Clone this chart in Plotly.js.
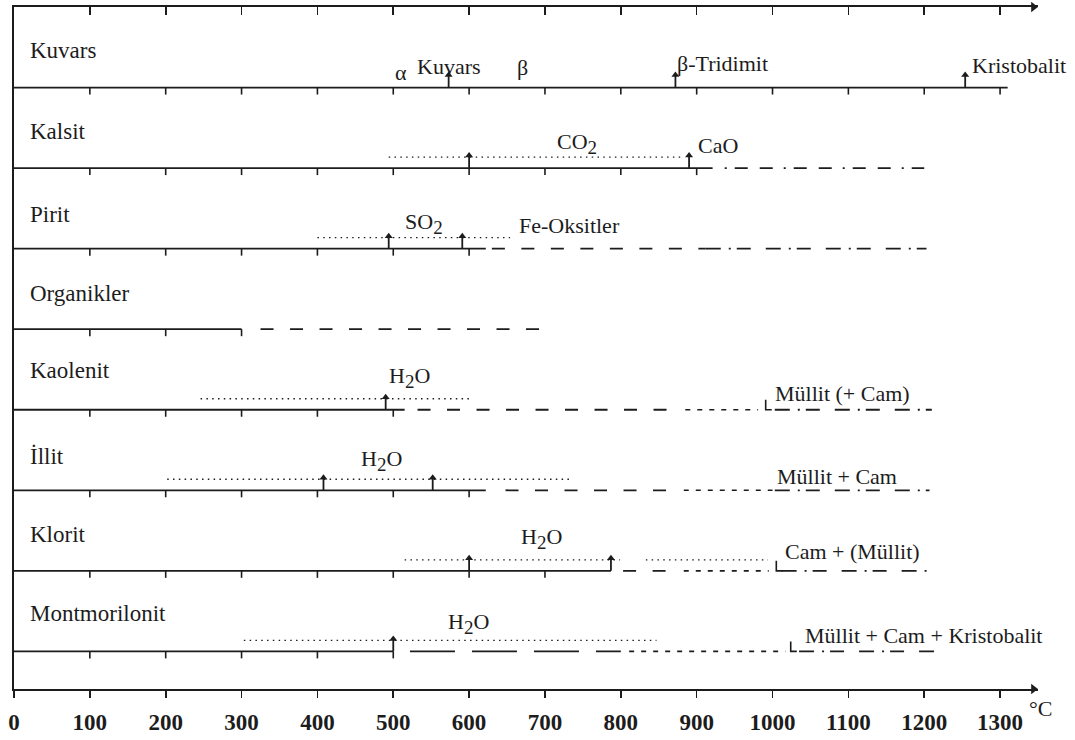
<!DOCTYPE html>
<html>
<head>
<meta charset="utf-8">
<script src="https://cdn.plot.ly/plotly-3.0.1.min.js"></script>
<style>
  html, body { margin: 0; padding: 0; background: #ffffff; }
  #chart { width: 1075px; height: 740px; }
</style>
</head>
<body>
<div id="chart"></div>
<script>
// ---------------- data (temperatures in °C) ----------------
const minerals = ['Kuvars', 'Kalsit', 'Pirit', 'Organikler', 'Kaolenit', 'İllit', 'Klorit', 'Montmorilonit'];
const solidEnd = [1310, 921, 622, 300, 515, 622, 787, 500];
const dashRange = [null, null, [630, 912], [325, 700], [532, 864], [648, 862], [803, 862], null];
const longDashRange = [null, null, null, null, null, null, null, [522, 800]];
const smallDashRange = [null, null, null, null, [885, 981], [883, 1000], [883, 995], [811, 1017]];
const dashDotRange = [null, [937, 1200], [912, 1203], null, [1003, 1210], [1003, 1207], [1012, 1207], [1035, 1220]];
const dottedRanges = [[], [[494, 882]], [[400, 654]], [], [[246, 600]], [[202, 735]], [[515, 799], [833, 994]], [[303, 847]]];
const arrowTemps = [[573, 872, 1254], [600, 890], [494, 591], [], [490], [408, 552], [600, 787], [500]];
const markTemps = [null, null, null, null, 991, null, 1005, 1024];
const xTickVals = [0, 100, 200, 300, 400, 500, 600, 700, 800, 900, 1000, 1100, 1200, 1300];
const axisEnd = 1350;
const unitLabel = '°C';

// text notes: row index, temperature, text
const notes = [
  {row: 0, t: 510,  text: 'α'},
  {row: 0, t: 573,  text: 'Kuvars'},
  {row: 0, t: 670,  text: 'β'},
  {row: 0, t: 872,  text: 'β-Tridimit', left: true},
  {row: 0, t: 1260, text: 'Kristobalit', left: true},
  {row: 1, t: 742,  text: 'CO<sub><span style="font-size:19px">2</span></sub>'},
  {row: 1, t: 899,  text: 'CaO', left: true},
  {row: 2, t: 541,  text: 'SO<sub><span style="font-size:19px">2</span></sub>'},
  {row: 2, t: 663,  text: 'Fe-Oksitler', left: true},
  {row: 4, t: 522,  text: 'H<sub><span style="font-size:19px">2</span></sub>O'},
  {row: 4, t: 1000, text: 'Müllit (+ Cam)', left: true},
  {row: 5, t: 484,  text: 'H<sub><span style="font-size:19px">2</span></sub>O'},
  {row: 5, t: 1003, text: 'Müllit + Cam', left: true},
  {row: 6, t: 696,  text: 'H<sub><span style="font-size:19px">2</span></sub>O'},
  {row: 6, t: 1014, text: 'Cam + (Müllit)', left: true},
  {row: 7, t: 599,  text: 'H<sub><span style="font-size:19px">2</span></sub>O'},
  {row: 7, t: 1040, text: 'Müllit + Cam + Kristobalit', left: true}
];
// vertical placement of notes (px above the row line, text-box centre)
const noteLift = [15, 21, 20, 24, 22, 25, 23, 25, 23, 32, 16, 30, 14, 32, 19, 28, 16];
const labelLift = [37, 36.5, 34, 36, 39.5, 33.5, 36, 37.5];

// ---------------- geometry helpers (layout constants) ----------------
const INK = '#1c1c1c';
const PX = 80.55;                 // px per row unit
const yBottom = 8.467;            // bottom axis position in row units
const rowY = i => i + 1;
const tickLen = 7 / PX, dotOff = 11 / PX, arrowStem = 13 / PX, arrowHeadC = 12.5 / PX, markLen = 10 / PX;

const traces = [];
function lineTrace(xs, ys, dash, width) {
  traces.push({type: 'scatter', mode: 'lines', x: xs, y: ys, xaxis: 'x', yaxis: 'y',
    line: {color: INK, width: width, dash: dash}, hoverinfo: 'skip', showlegend: false});
}
function collect(ranges, offset) {
  const xs = [], ys = [];
  ranges.forEach((r, i) => {
    if (!r) return;
    const list = Array.isArray(r[0]) ? r : [r];
    list.forEach(p => { xs.push(p[0], p[1], null); ys.push(rowY(i) - offset, rowY(i) - offset, null); });
  });
  return [xs, ys];
}

// solid base lines
(() => {
  const xs = [], ys = [];
  solidEnd.forEach((e, i) => { xs.push(0, e, null); ys.push(rowY(i), rowY(i), null); });
  lineTrace(xs, ys, 'solid', 1.8);
})();
// row ticks (every 100 °C under the solid part)
(() => {
  const xs = [], ys = [];
  solidEnd.forEach((e, i) => {
    xTickVals.filter(t => t > 0 && t <= e).forEach(t => { xs.push(t, t, null); ys.push(rowY(i), rowY(i) + tickLen, null); });
  });
  lineTrace(xs, ys, 'solid', 1.6);
})();
// dashed parts
let c;
c = collect(dashRange, 0);      lineTrace(c[0], c[1], '13px,16.5px', 1.8);
c = collect(longDashRange, 0);  lineTrace(c[0], c[1], '45px,17px', 1.8);
c = collect(smallDashRange, 0); lineTrace(c[0], c[1], '5px,7px', 1.6);
(() => {
  const k = collect([null, dashDotRange[1]], 0);
  lineTrace(k[0], k[1], '2px,8px,13px,12px,13px,11px', 1.8);
  const rest = dashDotRange.map((r, i) => (i === 1 ? null : r));
  const m = collect(rest, 0);
  lineTrace(m[0], m[1], '15px,8px,2px,6px,14px,15px', 1.8);
})();
// dotted (gas release) lines above the base line
c = collect(dottedRanges, dotOff); lineTrace(c[0], c[1], '1.5px,4.3px', 1.4);
// small vertical "L" marks
(() => {
  const xs = [], ys = [];
  markTemps.forEach((t, i) => { if (t == null) return; xs.push(t, t, t + 8, null); ys.push(rowY(i) - markLen, rowY(i), rowY(i), null); });
  lineTrace(xs, ys, 'solid', 1.6);
})();
// arrows
(() => {
  const xs = [], ys = [], hx = [], hy = [];
  arrowTemps.forEach((list, i) => list.forEach(t => {
    xs.push(t, t, null); ys.push(rowY(i), rowY(i) - arrowStem, null);
    hx.push(t); hy.push(rowY(i) - arrowHeadC);
  }));
  lineTrace(xs, ys, 'solid', 1.8);
  traces.push({type: 'scatter', mode: 'markers', x: hx, y: hy, marker: {symbol: 'triangle-up', size: 7, color: INK, line: {width: 0}},
    hoverinfo: 'skip', showlegend: false});
})();
// axis arrow heads
traces.push({type: 'scatter', mode: 'markers', x: [axisEnd - 6, axisEnd - 6], y: [0, yBottom], cliponaxis: false,
  marker: {symbol: 'triangle-right', size: 9, color: INK, line: {width: 0}}, hoverinfo: 'skip', showlegend: false});
// dummy trace for the top axis
traces.push({type: 'scatter', mode: 'markers', x: [0], y: [0], xaxis: 'x2', yaxis: 'y', marker: {opacity: 0}, hoverinfo: 'skip', showlegend: false});

// ---------------- annotations ----------------
const SERIF = 'Liberation Serif';
const annotations = [];
minerals.forEach((m, i) => annotations.push({
  xref: 'x', yref: 'y', x: 18, y: rowY(i) - labelLift[i] / PX, text: m, showarrow: false,
  xanchor: 'left', yanchor: 'middle', font: {family: SERIF, size: 23, color: INK}
}));
notes.forEach((n, k) => annotations.push({
  xref: 'x', yref: 'y', x: n.t, y: rowY(n.row) - noteLift[k] / PX, text: n.text, showarrow: false,
  xanchor: n.left ? 'left' : 'center', yanchor: 'middle', font: {family: SERIF, size: 22, color: INK}
}));
// unit label beyond the axis end (paper coordinates)
annotations.push({xref: 'paper', yref: 'paper', x: 1.0025, y: -0.028, text: unitLabel, showarrow: false,
  xanchor: 'center', yanchor: 'middle', font: {family: SERIF, size: 22, color: INK}});

const layout = {
  width: 1075, height: 740,
  margin: {l: 14, r: 37, t: 7, b: 51, pad: 0},
  paper_bgcolor: '#ffffff', plot_bgcolor: '#ffffff',
  font: {family: SERIF, color: INK},
  showlegend: false, hovermode: false,
  xaxis: {
    range: [0, axisEnd], showgrid: false, zeroline: false,
    showline: true, linecolor: INK, linewidth: 1.6,
    ticks: 'outside', ticklen: 7, tickwidth: 1.6, tickcolor: INK,
    tickmode: 'array', tickvals: xTickVals, ticktext: xTickVals.map(String),
    ticklabelstandoff: 5,
    tickfont: {family: SERIF, size: 23, color: INK, weight: 'bold'}
  },
  xaxis2: {
    range: [0, axisEnd], overlaying: 'x', side: 'top', anchor: 'y',
    showgrid: false, zeroline: false, showline: true, linecolor: INK, linewidth: 1.6,
    ticks: 'inside', ticklen: 8, tickwidth: 1.6, tickcolor: INK,
    tickmode: 'array', tickvals: xTickVals.filter(t => t > 0), showticklabels: false
  },
  yaxis: {
    range: [yBottom, 0], showgrid: false, zeroline: false, showticklabels: false,
    showline: true, linecolor: INK, linewidth: 1.6, ticks: ''
  },
  annotations: annotations
};

Plotly.newPlot('chart', traces, layout, {displayModeBar: false, staticPlot: true});
</script>
</body>
</html>
